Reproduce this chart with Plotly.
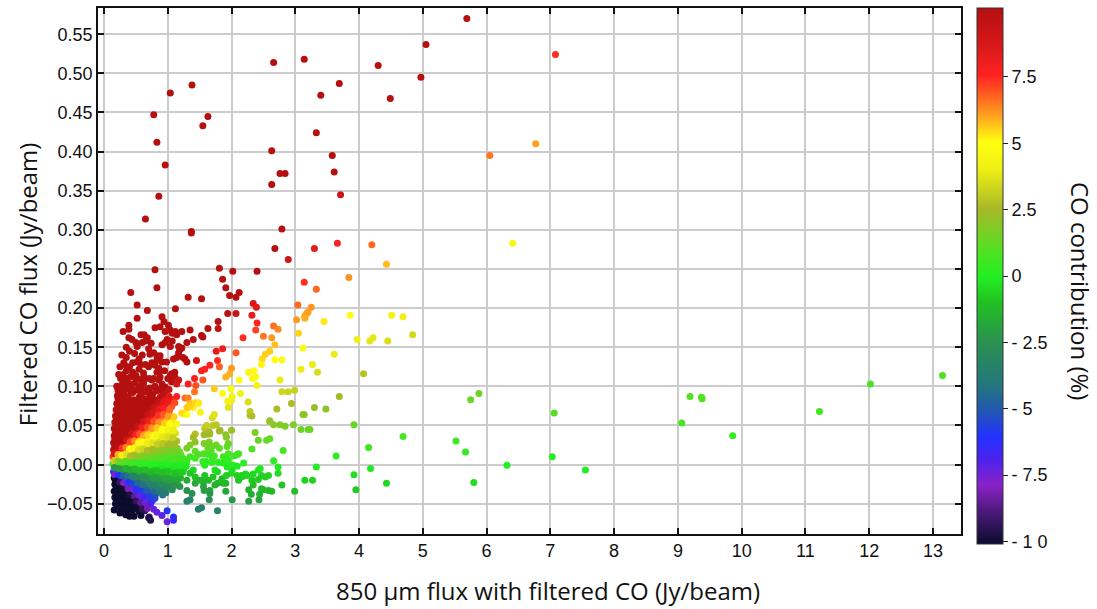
import plotly.graph_objects as go

# 850 um flux with filtered CO (Jy/beam) and filtered CO flux (Jy/beam)
x_flux = [
    # sparse upper points
    5.69, 5.05, 4.97, 4.30, 4.49, 3.69, 3.40, 3.14, 2.66, 3.33, 3.58, 3.61, 3.71, 2.63, 2.76, 2.84,
    2.63, 2.79, 2.68, 2.89, 3.30, 3.66, 4.20, 4.43, 3.84, 3.14, 3.33, 1.04, 1.38, 0.78, 1.63, 1.55,
    0.83, 0.96, 0.86, 0.65, 1.37, 1.37, 0.80, 0.83, 0.42, 1.32, 1.53, 1.81, 1.86, 1.91, 2.02, 1.97,
    2.07, 2.12, 2.40, 7.08, 6.77, 6.05, 6.41,
    # far right green points
    5.88, 5.75, 7.06, 6.32, 7.03, 7.55, 9.06, 9.19, 9.37, 9.38, 9.86, 11.22, 12.02, 13.15, 5.80,
    # mid region (orange / yellow / olive)
    3.04, 3.25, 3.20, 3.18, 3.15, 3.15, 3.02, 3.45, 3.86, 4.51, 4.69, 4.84, 3.97, 4.17, 4.22, 4.45,
    3.05, 3.12, 3.61, 3.27, 3.09, 3.35, 4.07, 2.68, 2.79, 2.76, 2.79, 2.89, 2.99, 2.94, 2.71, 3.30,
    3.48, 3.69, 2.66, 2.73, 2.63, 2.68, 2.60,
    # mid region (green)
    3.12, 3.14, 2.60, 2.66, 2.76, 2.84, 2.97, 3.92, 3.09, 3.20, 3.23, 4.69, 5.52, 5.67, 4.15, 2.60,
    2.81, 3.64, 2.66, 2.73, 2.73, 3.33, 4.18, 3.92, 3.15, 3.27, 2.79, 4.43, 3.95, 2.63, 2.99,
    # upper-left red scatter
    0.52, 0.68, 1.12, 2.34, 2.39, 1.94, 2.07, 2.32, 0.39, 0.39, 0.39, 0.52, 0.91, 0.94, 0.88, 1.01,
    0.96, 1.04, 1.07, 1.12, 1.14, 1.22, 0.58, 0.63, 0.68, 0.65, 0.60, 0.50, 0.52, 1.35, 1.53, 1.55,
    1.63, 1.79, 1.79, 1.30, 1.40, 0.99, 0.96, 0.91, 1.04, 1.07, 1.17, 1.19, 1.22, 1.17, 1.14, 1.24,
    0.72, 0.83, 0.88, 0.83, 0.91, 0.98, 0.80, 0.86, 0.35, 0.32, 0.52, 0.58, 1.09, 1.27, 1.30, 1.45,
    1.53, 1.58, 1.66, 1.76, 1.86, 1.78, 1.81, 2.07, 2.18, 2.40, 2.38, 2.50, 2.48, 2.53, 2.47,
    # orange / yellow around x=2
    2.00, 1.97, 1.91, 2.27, 2.35, 2.33, 2.38, 2.40, 2.12, 1.73, 1.86, 1.99, 2.01, 1.94, 2.14,
    1.55, 1.42, 1.44, 1.32, 1.42, 1.11, 1.06, 1.04, 1.11, 1.17, 1.06, 1.14, 0.88, 0.88, 0.86, 0.91,
    0.96, 0.91, 0.96, 0.99, 0.65, 0.71, 0.58, 0.52, 0.50, 0.37, 0.40, 0.32, 0.35, 0.29, 0.32, 0.42,
    0.58, 0.68, 0.80, 0.75, 1.27, 1.32, 1.14, 1.09, 1.11, 1.48, 1.38, 1.32,
    0.30, 0.35, 0.40, 0.45, 0.55, 0.62, 0.70, 0.75, 0.48, 0.55, 0.62, 0.70, 0.76, 0.82, 0.45, 0.38,
    0.27, 0.25,
    # extra dark-red points, x=0.2-1.0, y=0.09-0.18
    0.22, 0.28, 0.33, 0.42, 0.50, 0.58, 0.65, 0.72, 0.85, 0.92, 0.26, 0.33, 0.41, 0.50, 0.62, 0.78,
    0.25, 0.31, 0.45, 0.55, 0.65, 0.83, 0.95, 0.28, 0.40, 0.48, 0.60, 0.70, 0.78, 0.35, 0.44, 0.74,
    0.30, 0.80, 1.00, 1.02, 0.20, 0.23, 0.21,
    # yellow / olive near x=1.2-2.6
    1.24, 1.40, 1.35, 1.14, 1.04, 1.51, 1.58, 1.43, 1.61, 1.71, 1.66, 1.82, 1.95, 2.00, 2.26, 2.29,
    2.60, 1.30, 1.35, 1.43, 1.48, 1.22, 1.30, 1.70, 1.73, 1.76, 1.81, 1.57, 1.63, 1.65, 2.29, 2.32,
    # green spread x=1.2-2.6
    2.00, 1.92, 1.95, 2.11, 2.37, 2.42, 2.55, 2.32, 2.42, 2.47, 2.58, 2.32, 2.47, 2.58, 2.24, 2.16,
    2.11, 2.00, 1.92, 1.85, 1.87, 1.74, 1.64, 1.66, 1.56, 1.58, 1.74, 1.69, 1.66, 1.56, 1.43, 1.40,
    1.58, 1.79, 1.87, 1.95, 1.95, 2.03, 1.65, 1.57, 1.63, 1.70, 1.76, 1.68, 1.63, 1.73, 1.55, 1.60,
    1.70, 1.81, 1.91, 1.93, 2.09, 2.04, 1.95, 1.86, 1.93, 2.01, 2.09, 2.19, 2.09, 2.16, 2.22, 2.34,
    2.45, 2.42, 2.34, 2.27, 2.31, 2.44, 2.50, 2.53, 1.40, 1.43, 1.35, 1.30, 1.43, 1.48, 1.35, 1.30,
    1.19, 1.24, 1.35, 1.43, 1.51, 1.43, 1.30, 1.19, 1.19, 1.30, 1.38, 1.56, 1.57, 1.71, 1.78, 1.78,
    1.85, 1.91, 1.91, 1.66,
    # teal lower points
    1.30, 1.35, 1.48, 1.53, 1.78, 1.65, 2.01, 2.27, 2.43,
    # blue / purple lower points
    0.99, 1.09, 1.09, 0.99, 0.91, 0.83, 0.78, 0.71, 0.73,
    # dense cluster near origin
    0.22, 0.30, 0.38, 0.46, 0.55, 0.63, 0.72, 0.80, 0.88, 0.96, 1.02,
    0.20, 0.27, 0.35, 0.43, 0.51, 0.59, 0.68, 0.75, 0.84, 0.92, 0.99, 1.06,
    0.19, 0.25, 0.33, 0.41, 0.49, 0.57, 0.65, 0.72, 0.81, 0.88, 0.95, 1.02,
    0.18, 0.24, 0.31, 0.38, 0.46, 0.53, 0.61, 0.69, 0.77, 0.84, 0.91, 0.99, 1.07,
    0.17, 0.23, 0.29, 0.36, 0.43, 0.50, 0.57, 0.64, 0.71, 0.78, 0.85, 0.93, 1.00, 1.08,
    0.16, 0.22, 0.28, 0.34, 0.40, 0.47, 0.53, 0.59, 0.66, 0.73, 0.80, 0.88, 0.96, 1.04, 1.12,
    0.16, 0.21, 0.27, 0.33, 0.39, 0.45, 0.51, 0.58, 0.65, 0.72, 0.80, 0.88, 0.96, 1.05, 1.14,
    0.15, 0.20, 0.25, 0.31, 0.37, 0.43, 0.50, 0.57, 0.64, 0.72, 0.80, 0.88, 0.97, 1.06, 1.15,
    0.15, 0.20, 0.26, 0.32, 0.38, 0.45, 0.52, 0.60, 0.68, 0.76, 0.85, 0.94, 1.03, 1.12, 1.21,
    0.14, 0.19, 0.25, 0.31, 0.38, 0.45, 0.53, 0.61, 0.69, 0.78, 0.87, 0.96, 1.05, 1.14, 1.24,
    0.14, 0.19, 0.25, 0.31, 0.38, 0.45, 0.53, 0.61, 0.69, 0.78, 0.87, 0.96, 1.05, 1.15, 1.25,
    0.15, 0.20, 0.26, 0.33, 0.40, 0.48, 0.56, 0.64, 0.73, 0.82, 0.91, 1.00, 1.10, 1.20,
    0.16, 0.21, 0.27, 0.34, 0.41, 0.49, 0.57, 0.66, 0.75, 0.85, 0.95, 1.05, 1.15,
    0.17, 0.23, 0.29, 0.35, 0.42, 0.50, 0.58, 0.67, 0.76, 0.86, 0.96, 1.07,
    0.16, 0.22, 0.28, 0.34, 0.40, 0.47, 0.55, 0.63, 0.72, 0.82, 0.92,
    0.17, 0.23, 0.30, 0.37, 0.44, 0.51, 0.59, 0.67, 0.76,
    0.18, 0.25, 0.32, 0.39, 0.46, 0.53, 0.61, 0.69,
    0.16, 0.27, 0.36, 0.45, 0.55, 0.64,
    0.34, 0.47, 0.58, 0.70, 0.25, 0.40,
    # dense cluster, in-between rows
    0.24, 0.33, 0.41, 0.50, 0.59, 0.67, 0.76, 0.85, 0.93, 1.00,
    0.22, 0.30, 0.38, 0.46, 0.55, 0.62, 0.71, 0.79, 0.86, 0.94, 1.03,
    0.21, 0.28, 0.36, 0.44, 0.52, 0.60, 0.68, 0.76, 0.85, 0.93, 1.01, 1.10,
    0.20, 0.26, 0.33, 0.41, 0.48, 0.55, 0.62, 0.70, 0.78, 0.86, 0.95, 1.03,
    0.19, 0.25, 0.31, 0.38, 0.46, 0.53, 0.60, 0.68, 0.75, 0.83, 0.91, 1.00, 1.09,
    0.18, 0.24, 0.30, 0.36, 0.43, 0.50, 0.56, 0.62, 0.69, 0.77, 0.84, 0.92, 1.00, 1.08,
    0.17, 0.23, 0.29, 0.35, 0.41, 0.48, 0.54, 0.61, 0.68, 0.76, 0.84, 0.92, 1.01, 1.10,
    0.17, 0.22, 0.28, 0.34, 0.40, 0.47, 0.54, 0.61, 0.68, 0.76, 0.84, 0.92, 1.01, 1.10, 1.19,
    0.16, 0.22, 0.28, 0.35, 0.41, 0.48, 0.56, 0.64, 0.72, 0.80, 0.89, 0.98, 1.07, 1.16, 1.26,
    0.16, 0.22, 0.28, 0.34, 0.41, 0.49, 0.57, 0.65, 0.73, 0.82, 0.91, 1.00, 1.10, 1.19, 1.29,
    0.16, 0.22, 0.28, 0.35, 0.42, 0.49, 0.57, 0.65, 0.74, 0.83, 0.92, 1.01, 1.11, 1.21,
    0.17, 0.23, 0.30, 0.37, 0.44, 0.52, 0.60, 0.69, 0.78, 0.87, 0.96, 1.05, 1.15,
    0.18, 0.25, 0.31, 0.38, 0.45, 0.53, 0.62, 0.71, 0.80, 0.90, 1.00, 1.10,
    0.19, 0.26, 0.32, 0.38, 0.44, 0.51, 0.59, 0.67, 0.77, 0.87, 0.97,
    0.19, 0.26, 0.33, 0.40, 0.48, 0.55, 0.63, 0.71, 0.80,
    0.20, 0.27, 0.35, 0.42, 0.50, 0.57, 0.65, 0.73,
    0.21, 0.30, 0.40, 0.50, 0.60, 0.68,
]

y_co = [
    0.570, 0.537, 0.495, 0.510, 0.468, 0.487, 0.472, 0.518, 0.514, 0.424, 0.395, 0.374, 0.345, 0.401, 0.372, 0.372,
    0.358, 0.301, 0.276, 0.262, 0.276, 0.283, 0.281, 0.256, 0.239, 0.233, 0.224, 0.475, 0.485, 0.447, 0.445, 0.433,
    0.412, 0.383, 0.343, 0.314, 0.298, 0.296, 0.249, 0.226, 0.220, 0.214, 0.212, 0.251, 0.237, 0.226, 0.247, 0.216,
    0.214, 0.220, 0.247, 0.524, 0.410, 0.395, 0.283,
    0.091, 0.083, 0.066, -0.001, 0.010, -0.007, 0.053, 0.087, 0.086, 0.084, 0.037, 0.068, 0.103, 0.114, -0.023,
    0.204, 0.201, 0.195, 0.193, 0.190, 0.187, 0.185, 0.183, 0.191, 0.191, 0.189, 0.166, 0.160, 0.158, 0.162, 0.158,
    0.168, 0.149, 0.141, 0.128, 0.122, 0.118, 0.116, 0.134, 0.134, 0.108, 0.093, 0.093, 0.095, 0.078, 0.071, 0.073,
    0.071, 0.087, 0.177, 0.173, 0.162, 0.153, 0.145,
    0.064, 0.064, 0.055, 0.051, 0.051, 0.049, 0.051, 0.051, 0.045, 0.045, 0.045, 0.036, 0.030, 0.016, 0.022, 0.033,
    0.018, 0.011, 0.005, -0.003, -0.011, -0.003, -0.005, -0.013, -0.020, -0.020, -0.026, -0.024, -0.032, -0.034, -0.034,
    0.204, 0.197, 0.199, 0.206, 0.201, 0.193, 0.193, 0.191, 0.178, 0.173, 0.162, 0.187, 0.189, 0.183, 0.176, 0.178,
    0.170, 0.172, 0.168, 0.170, 0.166, 0.170, 0.166, 0.166, 0.162, 0.158, 0.156, 0.156, 0.151, 0.172, 0.165, 0.163,
    0.174, 0.183, 0.174, 0.156, 0.160, 0.160, 0.156, 0.153, 0.151, 0.158, 0.151, 0.147, 0.149, 0.143, 0.137, 0.137,
    0.141, 0.139, 0.139, 0.133, 0.131, 0.131, 0.127, 0.123, 0.137, 0.128, 0.131, 0.128, 0.135, 0.135, 0.131, 0.133,
    0.120, 0.122, 0.127, 0.145, 0.148, 0.133, 0.125, 0.143, 0.162, 0.181, 0.172, 0.164, 0.135, 0.141, 0.128,
    0.123, 0.116, 0.112, 0.118, 0.120, 0.110, 0.112, 0.101, 0.108, 0.097, 0.091, 0.097, 0.087, 0.081, 0.091,
    0.108, 0.110, 0.101, 0.103, 0.093, 0.118, 0.116, 0.114, 0.112, 0.108, 0.106, 0.103, 0.120, 0.112, 0.108, 0.103,
    0.099, 0.095, 0.091, 0.085, 0.110, 0.110, 0.108, 0.110, 0.114, 0.110, 0.103, 0.108, 0.097, 0.095, 0.089, 0.093,
    0.097, 0.097, 0.100, 0.108, 0.085, 0.085, 0.087, 0.083, 0.079, 0.079, 0.075, 0.073,
    0.115, 0.120, 0.125, 0.118, 0.122, 0.117, 0.125, 0.130, 0.104, 0.100, 0.104, 0.092, 0.090, 0.094, 0.092, 0.101,
    0.100, 0.091,
    0.095, 0.102, 0.096, 0.098, 0.095, 0.090, 0.093, 0.098, 0.096, 0.090, 0.110, 0.107, 0.112, 0.110, 0.112, 0.110,
    0.125, 0.130, 0.130, 0.135, 0.128, 0.118, 0.120, 0.140, 0.145, 0.142, 0.140, 0.148, 0.143, 0.150, 0.160, 0.155,
    0.170, 0.175, 0.110, 0.096, 0.100, 0.115, 0.088,
    0.065, 0.073, 0.078, 0.052, 0.052, 0.067, 0.046, 0.039, 0.050, 0.050, 0.039, 0.044, 0.073, 0.082, 0.080, 0.063,
    0.056, 0.073, 0.075, 0.079, 0.078, 0.066, 0.064, 0.060, 0.064, 0.051, 0.043, 0.038, 0.039, 0.042, 0.068, 0.062,
    0.044, 0.035, 0.027, 0.014, 0.041, 0.031, 0.031, 0.020, -0.007, -0.014, -0.014, -0.020, -0.031, -0.033, -0.014, -0.016,
    -0.020, -0.011, -0.014, -0.018, -0.024, -0.026, -0.020, -0.033, -0.022, -0.014, -0.007, 0.003, 0.016, 0.014, 0.008, -0.007,
    -0.001, 0.003, 0.010, 0.014, 0.001, -0.001, 0.029, 0.027, 0.021, 0.023, 0.025, 0.017, 0.013, 0.011, 0.004, 0.004,
    0.008, 0.021, 0.038, 0.023, 0.013, 0.011, 0.006, 0.002, -0.003, -0.008, -0.002, 0.002, -0.014, -0.014, -0.012, -0.012,
    -0.005, -0.019, -0.026, -0.032, -0.038, -0.038, -0.032, -0.016, 0.035, 0.029, 0.025, 0.021, 0.017, 0.013, 0.010, 0.004,
    -0.003, -0.009, -0.011, -0.016, -0.020, -0.024, -0.020, -0.016, -0.028, -0.033, -0.037, -0.028, -0.033, -0.016, -0.009, -0.024,
    -0.020, -0.024, -0.034, -0.037,
    -0.047, -0.045, -0.057, -0.055, -0.059, -0.045, -0.045, -0.047, -0.045,
    -0.059, -0.067, -0.071, -0.073, -0.065, -0.061, -0.057, -0.067, -0.071,
    0.085, 0.084, 0.086, 0.083, 0.086, 0.084, 0.087, 0.083, 0.086, 0.082, 0.087,
    0.078, 0.076, 0.079, 0.077, 0.078, 0.076, 0.079, 0.077, 0.078, 0.076, 0.078, 0.074,
    0.070, 0.068, 0.071, 0.069, 0.070, 0.068, 0.071, 0.068, 0.070, 0.067, 0.069, 0.066,
    0.062, 0.060, 0.063, 0.061, 0.062, 0.060, 0.062, 0.060, 0.061, 0.059, 0.060, 0.058, 0.057,
    0.054, 0.052, 0.055, 0.053, 0.054, 0.052, 0.053, 0.051, 0.052, 0.050, 0.051, 0.049, 0.048, 0.047,
    0.046, 0.044, 0.046, 0.044, 0.045, 0.043, 0.044, 0.042, 0.043, 0.041, 0.042, 0.040, 0.041, 0.039, 0.040,
    0.037, 0.035, 0.036, 0.034, 0.035, 0.033, 0.034, 0.032, 0.033, 0.031, 0.032, 0.030, 0.031, 0.029, 0.030,
    0.028, 0.026, 0.027, 0.025, 0.026, 0.024, 0.025, 0.023, 0.024, 0.022, 0.023, 0.021, 0.022, 0.020, 0.021,
    0.019, 0.017, 0.018, 0.016, 0.017, 0.015, 0.016, 0.014, 0.015, 0.013, 0.014, 0.012, 0.013, 0.011, 0.012,
    0.010, 0.008, 0.009, 0.007, 0.008, 0.006, 0.007, 0.005, 0.006, 0.004, 0.005, 0.003, 0.004, 0.002, 0.003,
    0.001, -0.001, 0.000, -0.002, -0.001, -0.003, -0.002, -0.004, -0.003, -0.005, -0.004, -0.006, -0.005, -0.007, -0.006,
    -0.009, -0.011, -0.010, -0.012, -0.011, -0.013, -0.012, -0.014, -0.013, -0.015, -0.014, -0.016, -0.015, -0.017,
    -0.017, -0.019, -0.018, -0.020, -0.019, -0.021, -0.020, -0.022, -0.021, -0.023, -0.022, -0.024, -0.023,
    -0.025, -0.027, -0.026, -0.028, -0.027, -0.029, -0.028, -0.030, -0.029, -0.031, -0.030, -0.032,
    -0.034, -0.033, -0.035, -0.034, -0.036, -0.035, -0.037, -0.036, -0.038, -0.037, -0.039,
    -0.042, -0.041, -0.043, -0.042, -0.044, -0.043, -0.045, -0.044, -0.046,
    -0.050, -0.049, -0.051, -0.050, -0.052, -0.051, -0.053, -0.052,
    -0.058, -0.057, -0.059, -0.058, -0.060, -0.059,
    -0.064, -0.066, -0.065, -0.068, -0.062, -0.066,
    0.081, 0.080, 0.082, 0.080, 0.081, 0.082, 0.080, 0.081, 0.079, 0.081,
    0.073, 0.072, 0.074, 0.072, 0.073, 0.074, 0.072, 0.073, 0.071, 0.072, 0.070,
    0.066, 0.064, 0.065, 0.066, 0.064, 0.065, 0.064, 0.066, 0.063, 0.064, 0.062, 0.061,
    0.058, 0.056, 0.057, 0.058, 0.056, 0.057, 0.055, 0.056, 0.055, 0.054, 0.053, 0.052,
    0.050, 0.048, 0.049, 0.050, 0.048, 0.049, 0.047, 0.048, 0.046, 0.047, 0.045, 0.044, 0.044,
    0.041, 0.040, 0.039, 0.040, 0.039, 0.038, 0.039, 0.037, 0.038, 0.036, 0.037, 0.035, 0.036, 0.034,
    0.032, 0.031, 0.030, 0.031, 0.029, 0.030, 0.028, 0.029, 0.027, 0.028, 0.026, 0.027, 0.025, 0.026,
    0.023, 0.022, 0.021, 0.022, 0.020, 0.021, 0.019, 0.020, 0.018, 0.019, 0.017, 0.018, 0.016, 0.017, 0.016,
    0.014, 0.013, 0.012, 0.013, 0.011, 0.012, 0.010, 0.011, 0.009, 0.010, 0.008, 0.009, 0.007, 0.008, 0.007,
    0.005, 0.004, 0.003, 0.004, 0.002, 0.003, 0.001, 0.002, 0.000, 0.001, -0.001, 0.000, -0.002, -0.001, -0.002,
    -0.004, -0.005, -0.006, -0.005, -0.007, -0.006, -0.008, -0.007, -0.009, -0.008, -0.010, -0.009, -0.011, -0.010,
    -0.013, -0.014, -0.015, -0.016, -0.015, -0.017, -0.016, -0.018, -0.017, -0.019, -0.018, -0.020, -0.019,
    -0.021, -0.023, -0.024, -0.023, -0.025, -0.024, -0.026, -0.025, -0.027, -0.026, -0.028, -0.027,
    -0.030, -0.031, -0.032, -0.031, -0.033, -0.032, -0.034, -0.033, -0.035, -0.034, -0.036,
    -0.038, -0.039, -0.040, -0.039, -0.041, -0.040, -0.042, -0.041, -0.043,
    -0.046, -0.047, -0.046, -0.048, -0.047, -0.049, -0.048, -0.050,
    -0.054, -0.055, -0.056, -0.055, -0.057, -0.056,
]

# CO contribution (%) shown by colour = 100 * filtered CO flux / 850 um flux
co_pct = [100.0 * yv / xv for xv, yv in zip(x_flux, y_co)]

cbar_tickvals = [7.5, 5, 2.5, 0, -2.5, -5, -7.5, -10]
cbar_ticktext = ["7.5", "5", "2.5", "0", "- 2.5", "- 5", "- 7.5", "- 1 0"]
x_tickvals = list(range(0, 14))
y_tickvals = [-0.05, 0.0, 0.05, 0.10, 0.15, 0.20, 0.25, 0.30, 0.35, 0.40, 0.45, 0.50, 0.55]

colorscale = [
    [0.00, "#0c0c2e"],
    [0.06, "#4a1a78"],
    [0.11, "#8a22c8"],
    [0.16, "#4a22f0"],
    [0.20, "#2232ff"],
    [0.25, "#2258b0"],
    [0.30, "#23787a"],
    [0.375, "#2a9050"],
    [0.45, "#22c022"],
    [0.50, "#22f022"],
    [0.55, "#55e022"],
    [0.625, "#a8b828"],
    [0.70, "#f0f014"],
    [0.75, "#ffff10"],
    [0.80, "#ffa020"],
    [0.85, "#ff4a20"],
    [0.875, "#ff2222"],
    [0.93, "#d81818"],
    [1.00, "#b41010"],
]

fig = go.Figure()
fig.add_trace(go.Scatter(
    x=x_flux, y=y_co, mode="markers",
    marker=dict(
        size=7, color=co_pct, cmin=-10.1, cmax=10.1, colorscale=colorscale,
        line=dict(width=0),
        colorbar=dict(
            x=1.0185, xanchor="left", y=1.0, yanchor="top",
            lenmode="pixels", len=536, thicknessmode="pixels", thickness=26,
            xpad=0, ypad=0, outlinewidth=1, outlinecolor="#333",
            tickmode="array", tickvals=cbar_tickvals, ticktext=cbar_ticktext,
            ticks="outside", ticklen=5, tickcolor="#222",
            tickfont=dict(family="Liberation Sans, Arial", size=18, color="#111"),
        ),
    ),
    hoverinfo="skip", showlegend=False,
))

axis_common = dict(
    showline=True, linecolor="#111", linewidth=1.5, mirror="allticks",
    ticks="inside", ticklen=6, tickwidth=1.5, tickcolor="#111",
    showgrid=True, gridcolor="#cccccc", gridwidth=2, zeroline=False,
    tickfont=dict(family="Liberation Sans, Arial", size=18, color="#111"),
)

fig.update_xaxes(range=[-0.094, 13.44], tickmode="array", tickvals=x_tickvals, **axis_common)
fig.update_yaxes(range=[-0.0887, 0.5835], tickmode="array", tickvals=y_tickvals,
                 tickformat=".2f", **axis_common)

title_font = dict(family="Open Sans", size=24, color="#111")
fig.add_annotation(
    text="850 μm flux with filtered CO (Jy/beam)", showarrow=False,
    xref="paper", yref="paper", x=0.5214, y=-0.108, xanchor="center", yanchor="middle",
    font=title_font,
)
fig.add_annotation(
    text="Filtered CO flux (Jy/beam)", textangle=-90, showarrow=False,
    xref="paper", yref="paper", x=-0.0823, y=0.475, xanchor="center", yanchor="middle",
    font=title_font,
)
fig.add_annotation(
    text="CO contribution (%)", textangle=90, showarrow=False,
    xref="paper", yref="paper", x=1.138, y=0.462, xanchor="center", yanchor="middle",
    font=title_font,
)

fig.update_layout(
    width=1097, height=609,
    margin=dict(l=98, r=136, t=6, b=75),
    paper_bgcolor="white", plot_bgcolor="white",
)

fig.write_html("out.html")
